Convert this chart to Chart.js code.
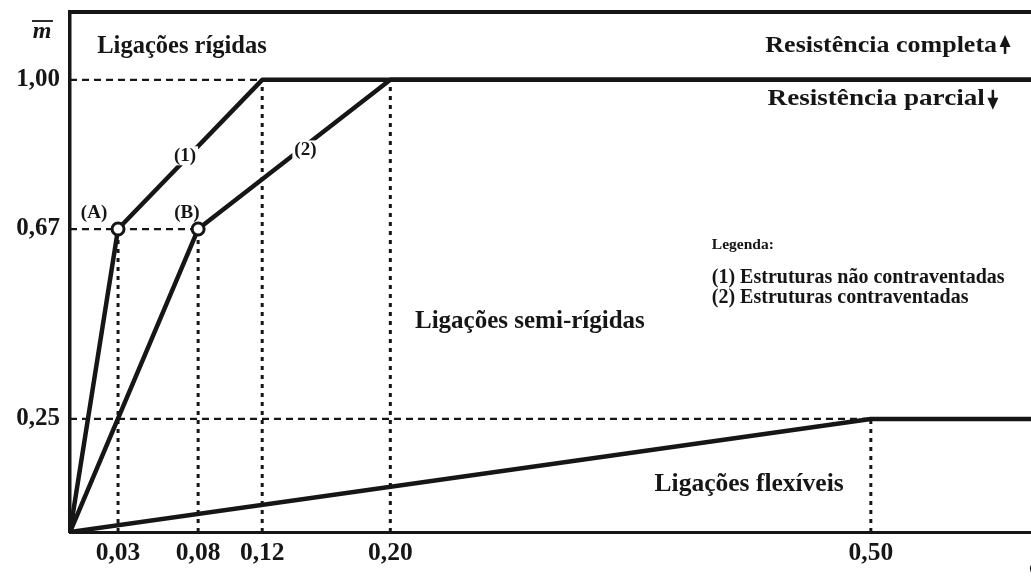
<!DOCTYPE html>
<html>
<head>
<meta charset="utf-8">
<style>
  html, body { margin: 0; padding: 0; background: #fff; }
  #wrap { width: 1031px; height: 578px; position: relative; }
</style>
<script src="https://cdn.jsdelivr.net/npm/chart.js@4/dist/chart.umd.min.js"></script>
</head>
<body>
<div id="wrap"><canvas id="chart-ligacoes"></canvas></div>
<script>
// tick labels (phi axis and m-bar axis)
const xTickValues = [0.03, 0.08, 0.12, 0.20, 0.50];
const yTickValues = [0.25, 0.67, 1.00];

// curve (1) - estruturas nao contraventadas
const curve1X = [0, 0.03, 0.12, 0.60];
const curve1Y = [0, 0.67, 1.00, 1.00];
// curve (2) - estruturas contraventadas
const curve2X = [0, 0.08, 0.20, 0.60];
const curve2Y = [0, 0.67, 1.00, 1.00];
// limite ligacoes flexiveis
const flexX = [0, 0.50, 0.60];
const flexY = [0, 0.25, 0.25];

// points (A) and (B)
const markX = [0.03, 0.08];
const markY = [0.67, 0.67];

// dashed horizontal guides: from x=0 to x=end at level y
const hGuideEnd = [0.12, 0.08, 0.50];
const hGuideY = [1.00, 0.67, 0.25];
// dotted vertical guides: from y=0 to y=top at x
const vGuideX = [0.03, 0.08, 0.12, 0.20, 0.50];
const vGuideTop = [0.67, 0.67, 1.00, 1.00, 0.25];

const INK = '#161616';
const SERIF = "'Liberation Serif', 'Times New Roman', serif";

const toPoints = (xs, ys) => xs.map((x, i) => ({ x, y: ys[i] }));
const fmt = (v) => Number(v).toFixed(2).replace('.', ',');

const notes = [
  { text: 'Ligações rígidas', x: 0.017, y: 1.073, align: 'left', size: 24.5 },
  { text: 'Resistência completa', x: 0.5788, y: 1.075, align: 'right', size: 23, stretch: 1.13, arrow: 'up' },
  { text: 'Resistência parcial', x: 0.5712, y: 0.958, align: 'right', size: 23, stretch: 1.18, arrow: 'down' },
  { text: '(A)', x: 0.015, y: 0.706, align: 'center', size: 19 },
  { text: '(B)', x: 0.073, y: 0.706, align: 'center', size: 19 },
  { text: '(1)', x: 0.0718, y: 0.832, align: 'center', size: 19, halo: true },
  { text: '(2)', x: 0.147, y: 0.845, align: 'center', size: 19, halo: true },
  { text: 'Legenda:', x: 0.4007, y: 0.635, align: 'left', size: 15.5 },
  { text: '(1) Estruturas não contraventadas', x: 0.4007, y: 0.562, align: 'left', size: 20 },
  { text: '(2) Estruturas contraventadas', x: 0.4007, y: 0.518, align: 'left', size: 20 },
  { text: 'Ligações semi-rígidas', x: 0.2154, y: 0.4646, align: 'left', size: 25 },
  { text: 'Ligações flexíveis', x: 0.365, y: 0.106, align: 'left', size: 25.5 }
];

function drawArrow(ctx, x, yFrom, yTo) {
  const dir = yTo < yFrom ? -1 : 1;
  ctx.save();
  ctx.strokeStyle = INK;
  ctx.fillStyle = INK;
  ctx.lineWidth = 2.5;
  ctx.beginPath();
  ctx.moveTo(x, yFrom);
  ctx.lineTo(x, yTo - dir * 8);
  ctx.stroke();
  ctx.beginPath();
  ctx.moveTo(x, yTo);
  ctx.lineTo(x - 5.5, yTo - dir * 12);
  ctx.lineTo(x + 5.5, yTo - dir * 12);
  ctx.closePath();
  ctx.fill();
  ctx.restore();
}

const notesPlugin = {
  id: 'notes',
  afterDatasetsDraw(chart) {
    const { ctx, scales, chartArea } = chart;
    ctx.save();
    ctx.textBaseline = 'middle';
    notes.forEach((n) => {
      const px = scales.x.getPixelForValue(n.x);
      const py = scales.y.getPixelForValue(n.y);
      const k = n.stretch || 1;
      ctx.font = `bold ${n.size}px ${SERIF}`;
      ctx.textAlign = n.align;
      if (n.halo) {
        // white gap where the label sits on top of a curve
        const w = ctx.measureText(n.text).width;
        ctx.fillStyle = '#ffffff';
        ctx.fillRect(px - w / 2 - 2, py - n.size / 2, w + 4, n.size);
      }
      ctx.fillStyle = INK;
      ctx.save();
      ctx.translate(px, py);
      ctx.scale(k, 1);
      ctx.fillText(n.text, 0, 0);
      ctx.restore();
      if (n.arrow === 'up') drawArrow(ctx, px + 8, py + 8, py - 11);
      if (n.arrow === 'down') drawArrow(ctx, px + 8, py - 9, py + 11);
    });

    // axis names
    ctx.fillStyle = INK;
    ctx.font = `italic bold 24px ${SERIF}`;
    ctx.textAlign = 'center';
    const mx = chartArea.left - 28;
    const my = chartArea.top + 20;
    ctx.fillText('m', mx, my);
    ctx.lineWidth = 1.8;
    ctx.strokeStyle = INK;
    ctx.beginPath();
    ctx.moveTo(mx - 10, my - 11);
    ctx.lineTo(mx + 11, my - 11);
    ctx.stroke();

    ctx.font = `bold 24px ${SERIF}`;
    ctx.textAlign = 'left';
    ctx.fillText('φ', chartArea.right - 2, chartArea.bottom + 36);
    ctx.restore();
  }
};

const guideSets = [
  ...hGuideY.map((y, i) => ({
    data: toPoints([0, hGuideEnd[i]], [y, y]),
    borderColor: INK,
    borderWidth: 2.2,
    borderDash: [7, 5],
    order: 3
  })),
  ...vGuideX.map((x, i) => ({
    data: toPoints([x, x], [0, vGuideTop[i]]),
    borderColor: INK,
    borderWidth: 3,
    borderDash: [4, 5],
    order: 3
  }))
];

const curveStyle = { borderColor: INK, borderWidth: 4.5, order: 2, borderJoinStyle: 'round' };

// keep the plot frame fixed: no automatic label padding
const noPad = (scale) => {
  scale.paddingTop = 0;
  scale.paddingBottom = 0;
  scale.paddingLeft = 0;
  scale.paddingRight = 0;
};

new Chart(document.getElementById('chart-ligacoes'), {
  type: 'scatter',
  data: {
    datasets: [
      ...guideSets,
      { data: toPoints(curve1X, curve1Y), ...curveStyle },
      { data: toPoints(curve2X, curve2Y), ...curveStyle },
      { data: toPoints(flexX, flexY), ...curveStyle },
      {
        data: toPoints(markX, markY),
        showLine: false,
        pointRadius: 6,
        pointBorderWidth: 3,
        pointBackgroundColor: '#ffffff',
        pointBorderColor: INK,
        order: 0
      }
    ].map((ds) => ({
      showLine: true,
      pointRadius: 0,
      fill: false,
      xAxisID: 'x',
      yAxisID: 'y',
      ...ds
    }))
  },
  options: {
    responsive: true,
    maintainAspectRatio: false,
    animation: false,
    layout: { padding: 0, autoPadding: false },
    plugins: {
      legend: { display: false },
      tooltip: { enabled: false }
    },
    scales: {
      x: {
        type: 'linear',
        position: 'bottom',
        min: 0,
        max: 0.6,
        grid: { display: false, drawTicks: false },
        border: { display: true, width: 3, color: INK },
        afterBuildTicks: (scale) => {
          scale.ticks = xTickValues.map((value) => ({ value }));
        },
        afterFit: (scale) => {
          scale.height = 46;
          noPad(scale);
        },
        ticks: {
          autoSkip: false,
          maxRotation: 0,
          padding: 6,
          color: INK,
          font: { family: SERIF, size: 25.5, weight: 'bold' },
          callback: (value) => fmt(value)
        }
      },
      xTop: {
        type: 'linear',
        position: 'top',
        min: 0,
        max: 0.6,
        grid: { display: false, drawTicks: false },
        border: { display: true, width: 4, color: INK },
        ticks: { display: false },
        afterFit: (scale) => {
          scale.height = 12;
          noPad(scale);
        }
      },
      y: {
        type: 'linear',
        min: 0,
        max: 1.15,
        grid: { display: false, drawTicks: false },
        border: { display: true, width: 3.5, color: INK },
        afterBuildTicks: (scale) => {
          scale.ticks = yTickValues.map((value) => ({ value }));
        },
        afterFit: (scale) => {
          scale.width = 70;
          noPad(scale);
        },
        ticks: {
          autoSkip: false,
          padding: 10,
          color: INK,
          font: { family: SERIF, size: 25, weight: 'bold' },
          callback: (value) => fmt(value)
        }
      }
    }
  },
  plugins: [notesPlugin]
});
</script>
</body>
</html>
